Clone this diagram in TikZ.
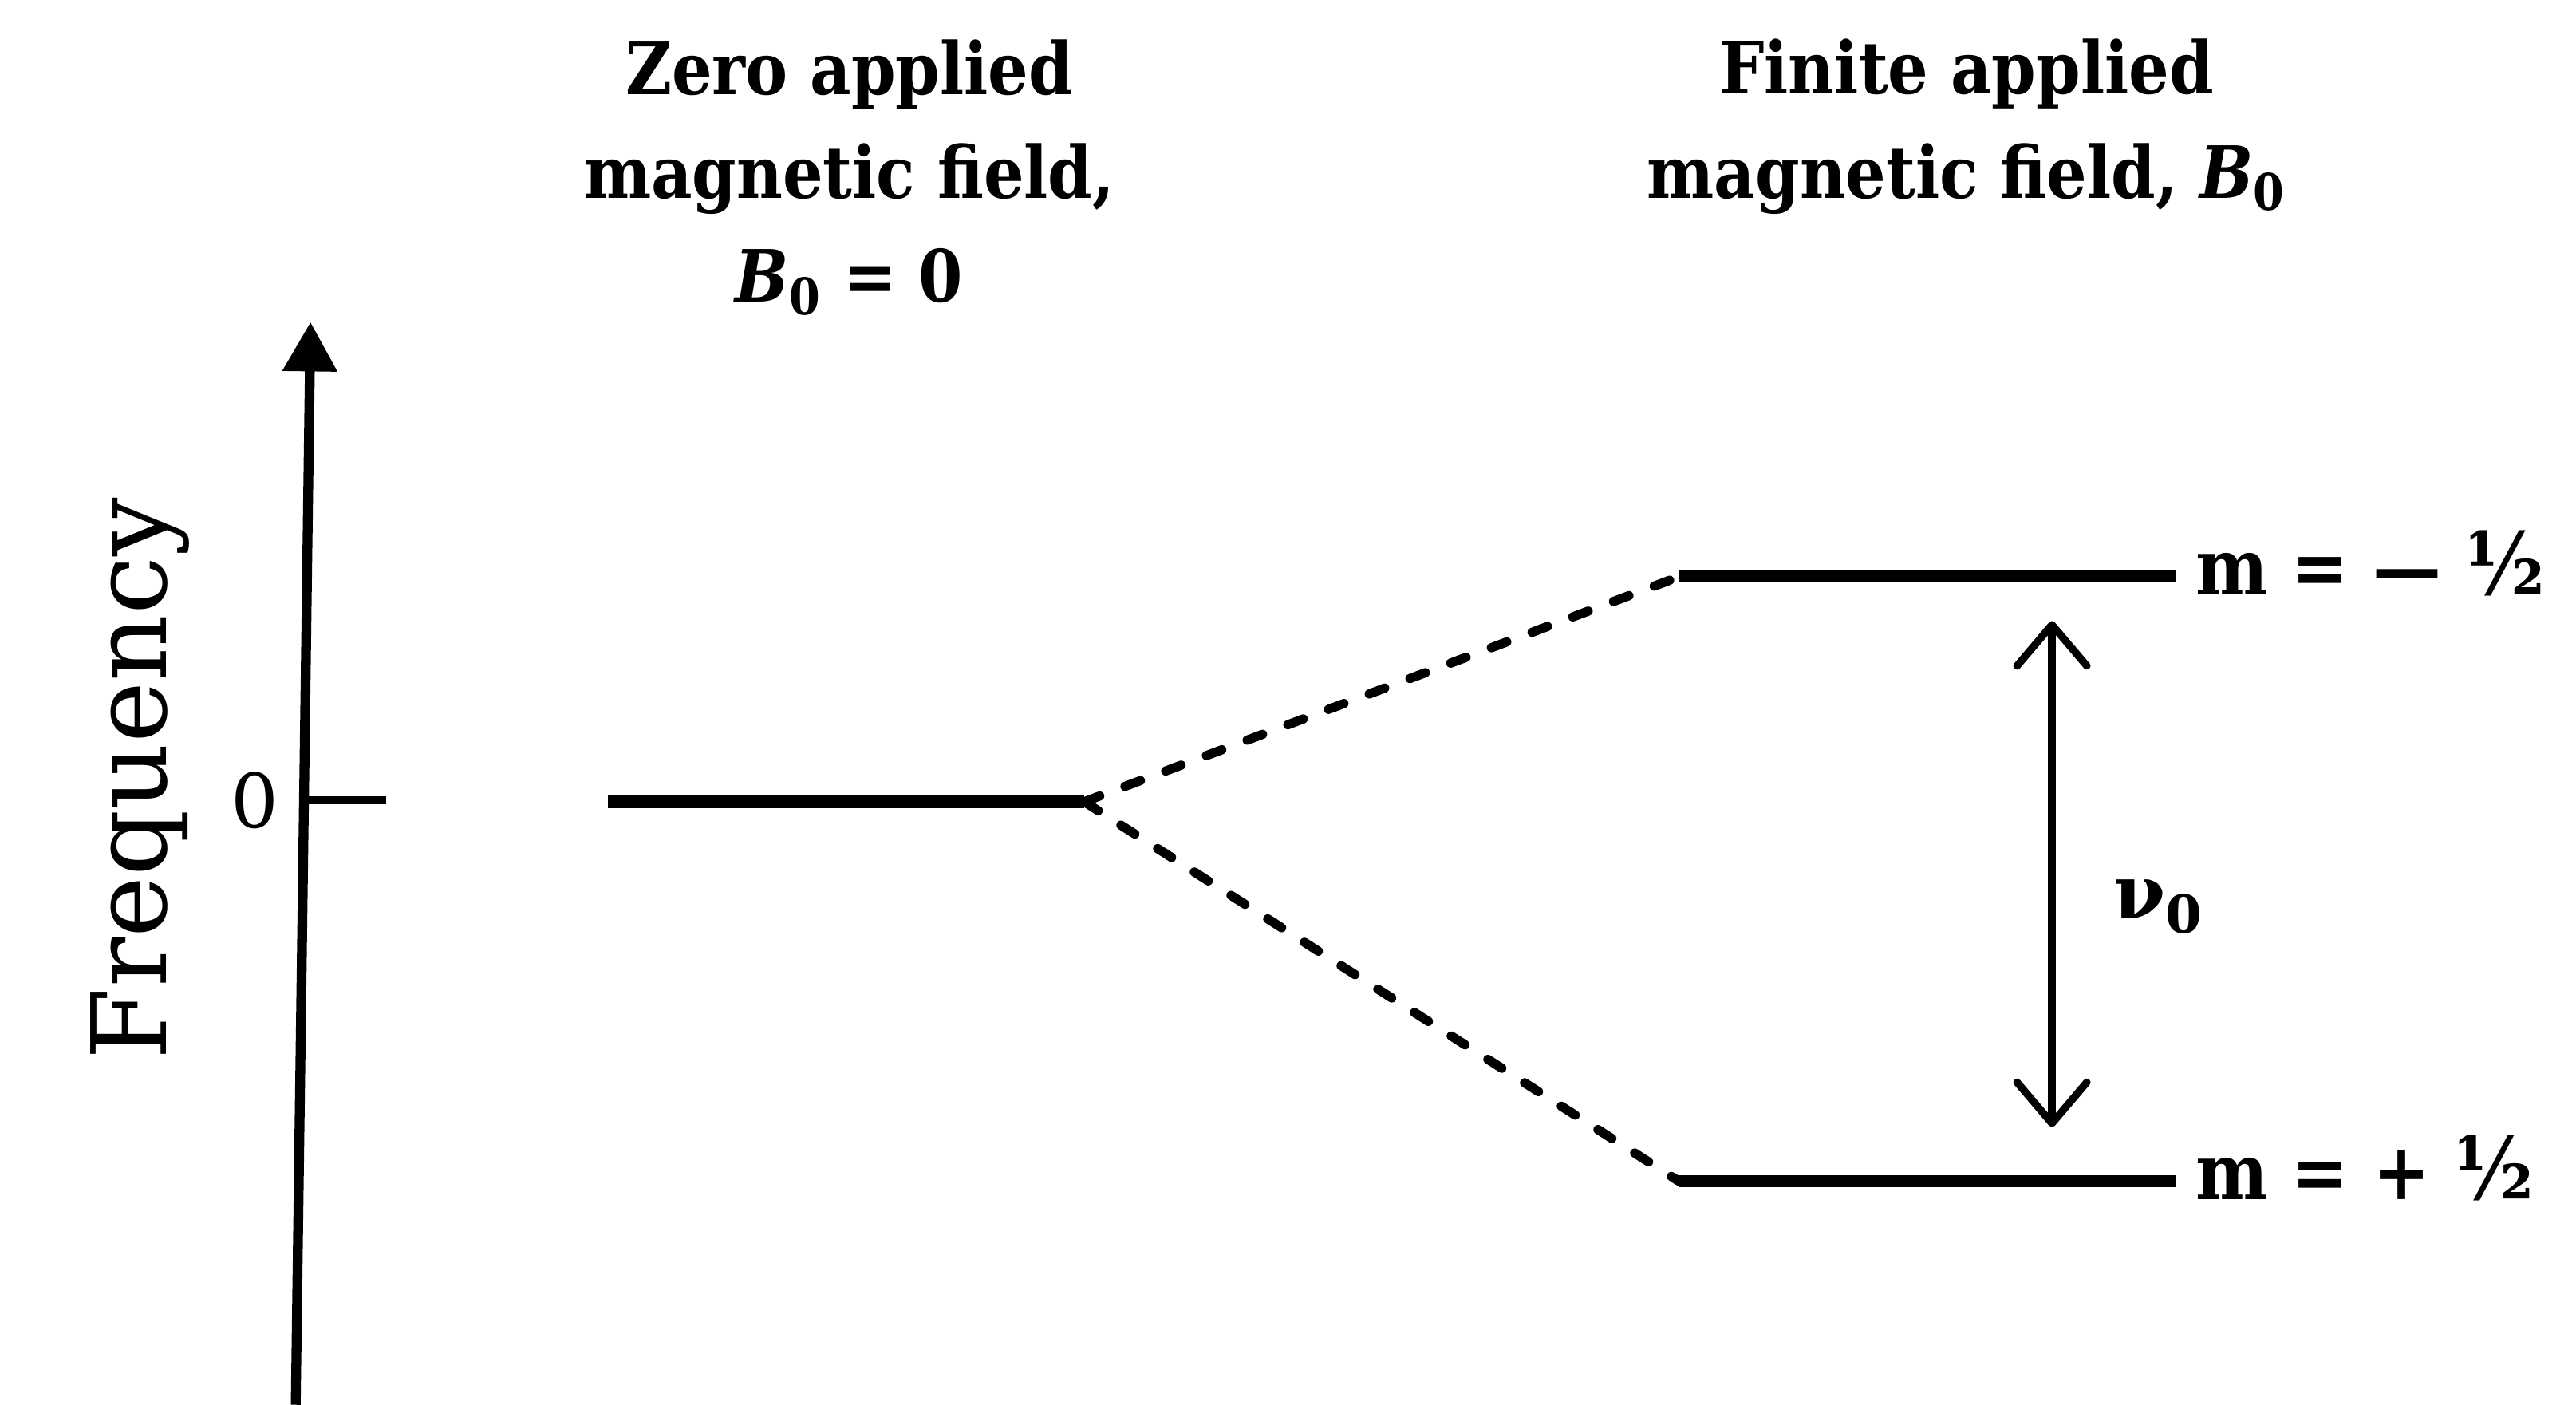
\documentclass[tikz,border=0pt]{standalone}
\usepackage{fontspec}
\setmainfont{DejaVu Serif}
\newfontfamily\slabfont{DejaVu Serif}[FakeStretch=0.88]
\usetikzlibrary{arrows.meta}
\newcommand{\bighalf}{{\fontsize{30}{30}\selectfont ½}}
\tikzset{
  titletext/.style={align=center,font=\slabfont\bfseries\fontsize{25}{36}\selectfont,inner sep=0pt},
  leveltext/.style={anchor=base west,font=\slabfont\bfseries\fontsize{27}{30}\selectfont,inner sep=0pt},
  axisline/.style={line width=3.4pt},
  levelline/.style={line width=4.2pt},
  splitline/.style={line width=3.2pt,line cap=round,dash pattern=on 0.2cm off 0.33cm},
  gaparrow/.style={line width=2.6pt,{Straight Barb[length=0.5cm,width=0.85cm,line cap=round,line join=round]}-{Straight Barb[length=0.5cm,width=0.85cm,line cap=round,line join=round]}}
}
\begin{document}
\begin{tikzpicture}[x=0.02cm,y=-0.02cm]
\useasboundingbox (0,0) rectangle (1568,855);
% titles
\node[titletext] (t1) at (517,108) {Zero applied\\magnetic field,\\\textit{B}\textsubscript{0} = 0};
\node[titletext] (t2) at (1197,77) {Finite applied\\magnetic field, \textit{B}\textsubscript{0}};
% axis
\coordinate (ax0) at (180,855);
\coordinate (ax1) at (189,196);
\draw[axisline,-{Triangle[length=0.6cm,width=0.64cm]}] (ax0) -- (ax1);
\coordinate (tk0) at (185,487);
\coordinate (tk1) at (235,487);
\draw[line width=2.6pt] (tk0) -- (tk1);
\node[font=\fontsize{26}{28}\selectfont,inner sep=0pt] (zero) at (155,487) {0};
\node[rotate=90,font=\fontsize{36}{40}\selectfont,inner sep=0pt] (freq) at (85,474) {Frequency};
% levels
\coordinate (z1) at (370,488);
\coordinate (z2) at (660,488);
\coordinate (u1) at (1022,351);
\coordinate (u2) at (1324,351);
\coordinate (l1) at (1022,719);
\coordinate (l2) at (1324,719);
\draw[levelline] (z1) -- (z2);
\draw[levelline] (u1) -- (u2);
\draw[levelline] (l1) -- (l2);
\draw[splitline] (z2) -- (u1);
\draw[splitline] (z2) -- (l1);
% transition
\coordinate (a1) at (1249,378);
\coordinate (a2) at (1249,686);
\draw[gaparrow] (a1) -- (a2);
\node[font=\bfseries\fontsize{26}{28}\selectfont,inner sep=0pt] (nu) at (1314,552) {ν\textsubscript{0}};
\node[leveltext] (mu) at (1336,362) {m = — \bighalf};
\node[leveltext] (ml) at (1336,730) {m = + \bighalf};
\end{tikzpicture}
\end{document}
